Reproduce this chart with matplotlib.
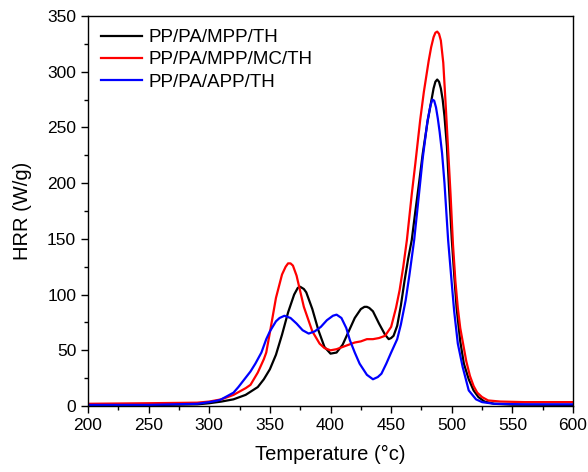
import matplotlib
matplotlib.use("Agg")
import matplotlib.pyplot as plt
from matplotlib.ticker import MultipleLocator

plt.rcParams['font.family'] = ['Liberation Sans', 'DejaVu Sans']

# HRR curves (temperature in degC, HRR in W/g)
t_mpp = [200, 250, 290, 300, 310, 320, 330, 340, 345, 350, 355, 360, 365, 370,
         373, 375, 378, 380, 385, 390, 395, 400, 405, 410, 415, 420, 425, 428,
         430, 432, 435, 440, 445, 448, 450, 452, 455, 458, 461, 464, 467, 470,
         473, 476, 480, 483, 485, 486.5, 488, 489.5, 491, 492.5, 494, 496, 498,
         500, 502, 504, 507, 510, 514, 518, 522, 527, 535, 550, 600]
hrr_mpp = [0.5, 0.8, 1.5, 2.5, 4, 6, 10, 17, 24, 33, 46, 64, 84, 100,
           106, 107, 105, 102, 87, 68, 53, 47, 48, 55, 67, 79, 87, 89,
           89, 88, 85, 74, 64, 60, 61, 63, 72, 90, 112, 132, 149, 175,
           200, 226, 255, 273, 285, 291, 293, 291, 285, 275, 260, 233, 190,
           150, 118, 88, 58, 38, 24, 14, 8, 4, 2, 1.2, 1]

t_mc = [200, 250, 290, 300, 310, 315, 320, 325, 330, 334, 340, 345, 347, 350,
        355, 360, 363, 365, 367, 369, 372, 378, 385, 391, 395, 400, 405, 410,
        415, 420, 425, 430, 435, 440, 445, 450, 454, 457, 460, 463, 467, 470,
        474, 477, 481, 483, 485, 486.5, 488, 489.5, 491, 493, 495, 497, 499,
        501, 503, 505, 507, 509, 512, 515, 518, 521, 525, 530, 540, 560, 600]
hrr_mc = [2, 2.5, 3, 4, 6, 8, 10, 13, 16, 19, 30, 42, 48, 66,
          97, 118, 125, 128, 128, 126, 117, 89, 67, 56, 52, 50, 51, 53,
          55, 57, 58, 60, 60, 61, 63, 71, 88, 104, 125, 149, 190, 218,
          257, 282, 310, 322, 331, 335, 336, 334, 328, 308, 270, 230, 190,
          145, 112, 88, 70, 58, 40, 27, 18, 12, 8, 5, 4, 3.5, 3.5]

t_app = [200, 250, 290, 300, 305, 309, 315, 320, 324, 329, 334, 338, 343, 347,
         350, 355, 358, 362, 367, 372, 377, 382, 387, 392, 397, 402, 405, 409,
         413, 416, 420, 424, 430, 435, 439, 442, 446, 450, 455, 458, 462, 465,
         469, 472, 476, 480, 482.5, 484, 485.5, 487, 488.5, 490, 492, 494, 497,
         500, 502, 505, 509, 514, 520, 525, 535, 560, 600]
hrr_app = [1, 1, 2, 3.5, 4.5, 5.5, 9, 12, 17, 24, 31, 38, 48, 60,
           67, 76, 79, 81, 79, 74, 68, 65, 67, 71, 77, 81, 82, 79,
           70, 59, 48, 38, 28, 24, 26, 29, 38, 48, 60, 73, 95, 117,
           149, 180, 222, 256, 270, 275, 274, 268, 258, 246, 227, 200, 149,
           110, 85, 56, 35, 14, 6, 3.5, 2, 1.5, 1.5]

labels = ['PP/PA/MPP/TH', 'PP/PA/MPP/MC/TH', 'PP/PA/APP/TH']
colors = ['black', '#ff0000', '#0000ff']

fig = plt.figure(figsize=(5.88, 4.72), dpi=100)
ax = fig.add_axes([0.1497, 0.1398, 0.8248, 0.8263])

for t, h, c, lab in zip([t_mpp, t_mc, t_app], [hrr_mpp, hrr_mc, hrr_app], colors, labels):
    ax.plot(t, h, color=c, lw=1.6, label=lab, solid_joinstyle='round')

ax.set_xlim(200, 600)
ax.set_ylim(0, 350)
ax.xaxis.set_major_locator(MultipleLocator(50))
ax.xaxis.set_minor_locator(MultipleLocator(25))
ax.yaxis.set_major_locator(MultipleLocator(50))
ax.yaxis.set_minor_locator(MultipleLocator(25))
ax.tick_params(which='major', direction='out', length=5, width=1, labelsize=12.5)
ax.tick_params(which='minor', direction='out', length=3, width=1)
for s in ax.spines.values():
    s.set_linewidth(1)

ax.set_xlabel('Temperature (°c)', fontsize=14.5, labelpad=9)
ax.set_ylabel('HRR (W/g)', fontsize=14.5, labelpad=11)

ax.legend(loc='upper left', frameon=False, fontsize=13.5, handlelength=2.2,
          handletextpad=0.35, labelspacing=0.27, borderaxespad=0.3,
          bbox_to_anchor=(0.0, 1.0))

fig.savefig('out.png', dpi=100)
